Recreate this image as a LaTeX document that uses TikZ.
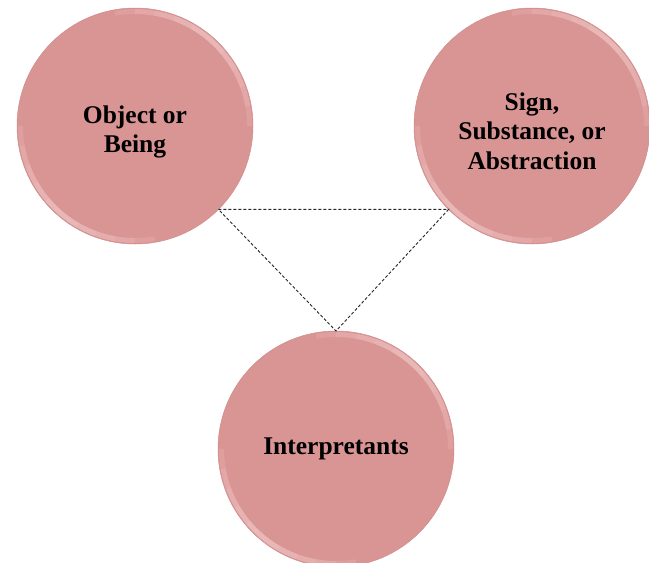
\documentclass[tikz,border=0pt]{standalone}
\usepackage{fontspec}
\setmainfont{Liberation Serif}
\definecolor{discpink}{HTML}{D99594}
\definecolor{discrim}{HTML}{CF8C8B}
\definecolor{hl}{HTML}{F2CACA}
\begin{document}
\begin{tikzpicture}[x=1pt,y=-1pt,
  disc/.style={circle,minimum size=236pt,inner sep=0pt,outer sep=0pt,
    fill=discpink,draw=discrim,line width=0.5pt},
  caption/.style={font=\bfseries\fontsize{25.5}{29.5}\selectfont,
    align=center,text=black,inner sep=0pt},
  link/.style={draw=black!85,line width=0.9pt,dash pattern=on 3pt off 2pt}]
\useasboundingbox (0,0) rectangle (649,563);

% the three discs
\node[disc] (obj)    at (135,126) {};
\node[disc] (sign)   at (532,126) {};
\node[disc] (interp) at (336,449) {};

% soft bevel highlights along the upper-right and lower-left rims
\foreach \n in {obj,sign,interp}{
  \begin{scope}
    \clip (\n.center) circle[radius=117.5];
    \foreach \s in {10,20,30,40,50}{
      \foreach \c in {50,230}{
        \pgfmathsetmacro\sa{-(\c-\s)}
        \pgfmathsetmacro\ea{-(\c+\s)}
        \draw[hl,line width=5pt,opacity=.2]
          ([shift={(\sa:114.5)}]\n.center) arc[start angle=\sa,end angle=\ea,radius=114.5];
      }
    }
  \end{scope}
}

% captions
\node[caption] (objtext)    at ([yshift=-6pt]obj.center)  {Object or\\Being};
\node[caption] (signtext)   at ([yshift=-5pt]sign.center) {Sign,\\Substance, or\\Abstraction};
\node[caption] (interptext) at (interp.center)            {Interpretants};

% dashed triangle between the discs
\draw[link] (obj.315) -- (sign.225) -- (interp.north) -- cycle;
\end{tikzpicture}
\end{document}
